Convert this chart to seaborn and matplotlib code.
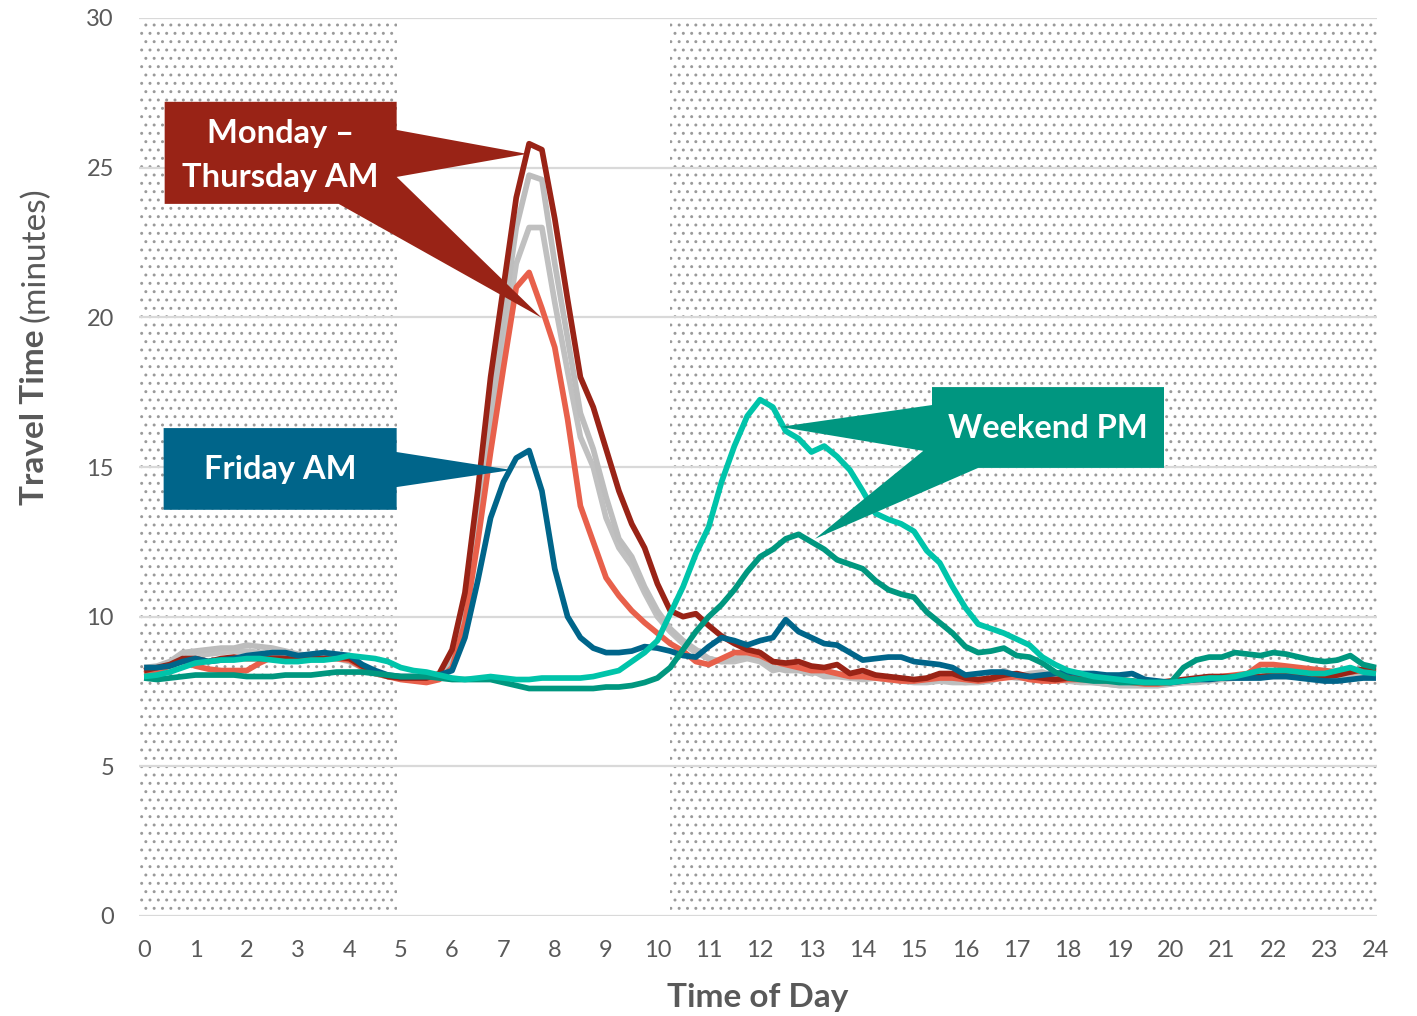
import numpy as np
import pandas as pd
import matplotlib
matplotlib.use("Agg")
import matplotlib.pyplot as plt
import seaborn as sns
from matplotlib.patches import Polygon

# ---------------- data (15-minute samples, 0:00 .. 24:00) ----------------
hours = [i * 0.25 for i in range(97)]

mon_thu_am = [
    8.2, 8.3, 8.4, 8.6,   8.6, 8.5, 8.6, 8.65,   8.6, 8.6, 8.6, 8.6,
    8.55, 8.6, 8.6, 8.65, 8.6, 8.35, 8.15, 8.0,  7.95, 7.95, 7.95, 8.1,
    8.9, 10.8, 14.2, 18.0, 21.0, 24.0, 25.8, 25.6, 23.3, 20.6, 18.0, 17.0,
    15.6, 14.2, 13.1, 12.3, 11.1, 10.2, 10.0, 10.1, 9.7, 9.35, 9.1, 8.9,
    8.8, 8.5, 8.45, 8.5,  8.35, 8.3, 8.4, 8.1,   8.2, 8.05, 8.0, 7.95,
    7.9, 7.95, 8.1, 8.1,  7.95, 7.9, 7.95, 8.05, 8.1, 8.0, 7.95, 7.9,
    7.95, 7.95, 7.95, 7.9, 7.9, 7.85, 7.8, 7.8, 7.85, 7.9, 7.95, 8.0,
    8.0, 8.0, 8.05, 8.0,  8.05, 8.05, 8.05, 8.05, 8.0, 8.05, 8.15, 8.25,
    8.2,
]
mon_thu_salmon = [
    8.1, 8.2, 8.35, 8.5,  8.35, 8.25, 8.2, 8.2,  8.2, 8.45, 8.65, 8.6,
    8.6, 8.6, 8.6, 8.6,   8.55, 8.3, 8.1, 8.0,   7.9, 7.85, 7.8, 7.9,
    8.3, 9.8, 12.5, 15.5, 18.3, 21.0, 21.5, 20.3, 19.0, 16.6, 13.7, 12.5,
    11.3, 10.7, 10.2, 9.8, 9.45, 9.1, 8.85, 8.5, 8.4, 8.6, 8.8, 8.8,
    8.7, 8.5, 8.4, 8.3,   8.2, 8.2, 8.1, 8.0,    8.0, 7.95, 7.9, 7.85,
    7.85, 7.9, 7.95, 7.95, 7.9, 7.85, 7.9, 7.95, 8.0, 7.9, 7.85, 7.85,
    7.9, 7.9, 7.9, 7.85,  7.85, 7.8, 7.75, 7.75, 7.8, 7.85, 7.9, 7.95,
    8.0, 8.05, 8.1, 8.4,  8.4, 8.35, 8.3, 8.25,  8.2, 8.15, 8.15, 8.2,
    8.15,
]
gray_a = [
    8.3, 8.35, 8.5, 8.8,  8.85, 8.9, 8.95, 8.95, 9.05, 9.0, 8.95, 8.85,
    8.75, 8.7, 8.7, 8.7,  8.6, 8.35, 8.1, 8.0,   7.95, 7.9, 7.9, 8.05,
    8.6, 10.2, 13.2, 16.7, 20.0, 23.0, 24.75, 24.6, 21.8, 19.3, 16.8, 15.6,
    14.0, 12.6, 12.0, 11.0, 10.2, 9.6, 9.2, 8.9, 8.6, 8.5, 8.6, 8.7,
    8.6, 8.3, 8.2, 8.2,   8.1, 8.2, 8.1, 8.0,    7.95, 8.0, 7.9, 7.9,
    7.85, 7.85, 7.9, 7.85, 7.8, 7.85, 7.9, 8.2,  8.0, 8.1, 8.15, 8.0,
    7.9, 7.85, 7.8, 7.75, 7.7, 7.7, 7.7, 7.7,    7.75, 7.8, 7.85, 7.9,
    7.95, 7.95, 8.0, 8.0, 8.0, 8.0, 8.0, 8.0,    8.0, 8.0, 8.05, 8.1,
    8.1,
]
gray_b = [
    8.2, 8.3, 8.45, 8.6,  8.7, 8.75, 8.8, 8.85,  8.85, 8.8, 8.75, 8.7,
    8.65, 8.65, 8.6, 8.6, 8.5, 8.3, 8.1, 8.0,    7.95, 7.9, 7.9, 8.0,
    8.5, 10.0, 12.8, 16.0, 19.0, 21.8, 23.0, 23.0, 20.5, 18.2, 16.0, 15.0,
    13.3, 12.3, 11.7, 10.8, 10.0, 9.5, 9.1, 8.8, 8.6, 8.5, 8.5, 8.6,
    8.5, 8.2, 8.3, 8.3,   8.2, 8.0, 8.0, 7.95,   7.9, 7.95, 7.9, 7.85,
    7.8, 7.8, 7.85, 7.8,  7.8, 7.8, 7.85, 8.0,   7.95, 7.95, 8.0, 7.9,
    7.85, 7.8, 7.8, 7.75, 7.7, 7.7, 7.7, 7.7,    7.75, 7.8, 7.8, 7.85,
    7.9, 7.95, 7.95, 8.0, 8.0, 8.0, 8.0, 8.0,    7.95, 7.95, 8.0, 8.05,
    8.05,
]
friday_am = [
    8.3, 8.3, 8.35, 8.5,  8.6, 8.5, 8.55, 8.6,   8.7, 8.75, 8.8, 8.8,
    8.7, 8.75, 8.8, 8.75, 8.7, 8.4, 8.2, 8.05,   8.0, 8.0, 8.0, 8.05,
    8.2, 9.3, 11.2, 13.3, 14.5, 15.3, 15.55, 14.2, 11.6, 10.0, 9.3, 8.95,
    8.8, 8.8, 8.85, 9.0,  8.95, 8.85, 8.7, 8.65, 9.0, 9.3, 9.2, 9.05,
    9.2, 9.3, 9.9, 9.5,   9.3, 9.1, 9.05, 8.8,   8.55, 8.6, 8.65, 8.65,
    8.5, 8.45, 8.4, 8.3,  8.05, 8.1, 8.15, 8.15, 8.05, 8.0, 8.05, 8.1,
    8.15, 8.1, 8.1, 8.05, 8.05, 8.1, 7.9, 7.85,  7.8, 7.85, 7.9, 7.9,
    7.95, 7.95, 7.95, 7.95, 8.0, 8.0, 7.95, 7.9, 7.85, 7.85, 7.9, 7.95,
    7.95,
]
weekend_pm = [
    8.0, 8.05, 8.15, 8.3, 8.45, 8.5, 8.55, 8.55, 8.6, 8.6, 8.55, 8.5,
    8.5, 8.55, 8.55, 8.6, 8.7, 8.65, 8.6, 8.5,   8.3, 8.2, 8.15, 8.05,
    7.95, 7.9, 7.95, 8.0, 7.95, 7.9, 7.9, 7.95,  7.95, 7.95, 7.95, 8.0,
    8.1, 8.2, 8.5, 8.8,   9.2, 10.1, 11.0, 12.1, 13.0, 14.5, 15.7, 16.7,
    17.25, 17.0, 16.2, 15.95, 15.5, 15.7, 15.35, 14.9, 14.2, 13.45, 13.25, 13.1,
    12.85, 12.2, 11.8, 11.0, 10.3, 9.75, 9.6, 9.45, 9.25, 9.05, 8.65, 8.4,
    8.2, 8.1, 8.0, 7.95,  7.9, 7.85, 7.8, 7.8,   7.8, 7.85, 7.9, 7.95,
    7.95, 8.0, 8.1, 8.2,  8.2, 8.2, 8.15, 8.1,   8.1, 8.2, 8.3, 8.15,
    8.1,
]
weekend_pm_dark = [
    7.95, 7.9, 7.95, 8.0, 8.05, 8.05, 8.05, 8.05, 8.0, 8.0, 8.0, 8.05,
    8.05, 8.05, 8.1, 8.15, 8.15, 8.15, 8.1, 8.05, 8.0, 8.0, 8.0, 7.95,
    7.9, 7.9, 7.9, 7.9,   7.8, 7.7, 7.6, 7.6,    7.6, 7.6, 7.6, 7.6,
    7.65, 7.65, 7.7, 7.8, 7.95, 8.3, 8.9, 9.5,   10.0, 10.4, 10.9, 11.5,
    12.0, 12.25, 12.6, 12.75, 12.5, 12.25, 11.9, 11.75, 11.6, 11.2, 10.9, 10.75,
    10.65, 10.15, 9.8, 9.45, 9.0, 8.8, 8.85, 8.95, 8.7, 8.65, 8.45, 8.15,
    7.95, 7.9, 7.85, 7.85, 7.8, 7.8, 7.8, 7.8,   7.8, 8.3, 8.55, 8.65,
    8.65, 8.8, 8.75, 8.7, 8.8, 8.75, 8.65, 8.55, 8.5, 8.55, 8.7, 8.4,
    8.3,
]

series_names = ["Gray B", "Gray A", "Salmon", "Mon-Thu AM", "Friday AM",
                "Weekend dark", "Weekend PM"]
series_values = [gray_b, gray_a, mon_thu_salmon, mon_thu_am, friday_am,
                 weekend_pm_dark, weekend_pm]
series_colors = ["#C0C0C0", "#BDBDBD", "#E8604B", "#992316", "#00658A",
                 "#00977F", "#00C4AA"]

x_ticks = list(range(25))
y_ticks = [0, 5, 10, 15, 20, 25, 30]

# ---------------- build table ----------------
frames = []
for name, vals in zip(series_names, series_values):
    frames.append(pd.DataFrame({"hour": hours, "minutes": vals, "series": name}))
df = pd.concat(frames, ignore_index=True)

# ---------------- style ----------------
sns.set_theme(style="white")
plt.rcParams["font.family"] = ["Lato", "DejaVu Sans"]
plt.rcParams["hatch.linewidth"] = 0.95
plt.rcParams["hatch.color"] = "#9A9A9A"

W, H = 1417, 1016
fig = plt.figure(figsize=(W / 100, H / 100), dpi=100)
fig.patch.set_facecolor("white")
ax = fig.add_axes([139 / W, 100 / H, 1238 / W, 898 / H])
ax.set_facecolor("white")

XMIN, XMAX = -0.1, 24.02
ax.set_xlim(XMIN, XMAX)
ax.set_ylim(0, 30)

# shaded (dotted) periods
for a, b in [(XMIN, 4.92), (10.24, XMAX)]:
    ax.axvspan(a, b, facecolor="none", edgecolor="#9A9A9A", hatch="..",
               linewidth=0, zorder=0.2)

# grid
for yv in y_ticks:
    ax.axhline(yv, color="#D9D9D9", linewidth=1.6, zorder=0.5)

sns.lineplot(data=df, x="hour", y="minutes", hue="series",
             hue_order=series_names, palette=series_colors,
             linewidth=4.1, legend=False, ax=ax, sort=False,
             solid_joinstyle="round", solid_capstyle="butt", zorder=3)

for sp in ax.spines.values():
    sp.set_visible(False)

ax.set_xticks(x_ticks)
ax.set_xticklabels([str(t) for t in x_ticks])
ax.set_yticks(y_ticks)
ax.set_yticklabels([str(t) for t in y_ticks])
ax.tick_params(axis="both", length=0, labelsize=17, labelcolor="#595959")
ax.tick_params(axis="y", pad=18)
ax.tick_params(axis="x", pad=17)
ax.set_xlabel("")
ax.set_ylabel("")
ax.grid(False)

# axis titles
fig.text(758 / W, 1 - 997 / H, "Time of Day", ha="center", va="center",
         fontsize=24, fontweight="bold", color="#595959")
fig.canvas.draw()
renderer = fig.canvas.get_renderer()
t1 = fig.text(35 / W, 1 - 505 / H, "Travel Time", rotation=90, ha="center",
              va="bottom", fontsize=24, fontweight="bold", color="#595959")
bb = t1.get_window_extent(renderer)
fig.text(35 / W, (bb.y1 + 7) / H, "(minutes)", rotation=90, ha="center",
         va="bottom", fontsize=24, color="#595959")

# ---------------- callouts ----------------
def callout(points, color, text, tx, ty, ls=1.5):
    ax.add_patch(Polygon(points, closed=True, facecolor=color,
                         edgecolor="none", zorder=5))
    ax.text(tx, ty, text, ha="center", va="center", color="white",
            fontsize=23.5, fontweight="bold", zorder=6, linespacing=ls)

callout([(0.40, 27.2), (4.92, 27.2), (4.92, 26.26), (7.46, 25.46),
         (4.92, 24.69), (7.75, 19.98), (3.79, 23.79), (0.40, 23.79)],
        "#992316", "Monday \u2013\nThursday AM", 2.66, 25.40, ls=1.6)
callout([(0.38, 16.30), (4.92, 16.30), (4.92, 15.5), (7.16, 14.9),
         (4.92, 14.33), (4.92, 13.57), (0.38, 13.57)],
        "#00658A", "Friday AM", 2.65, 14.93)
callout([(15.35, 17.67), (19.87, 17.67), (19.87, 14.97), (16.25, 14.97),
         (13.07, 12.6), (15.18, 15.54), (12.39, 16.34), (15.35, 17.07)],
        "#009680", "Weekend PM", 17.6, 16.3)

fig.savefig("out.png", dpi=100, facecolor="white")
